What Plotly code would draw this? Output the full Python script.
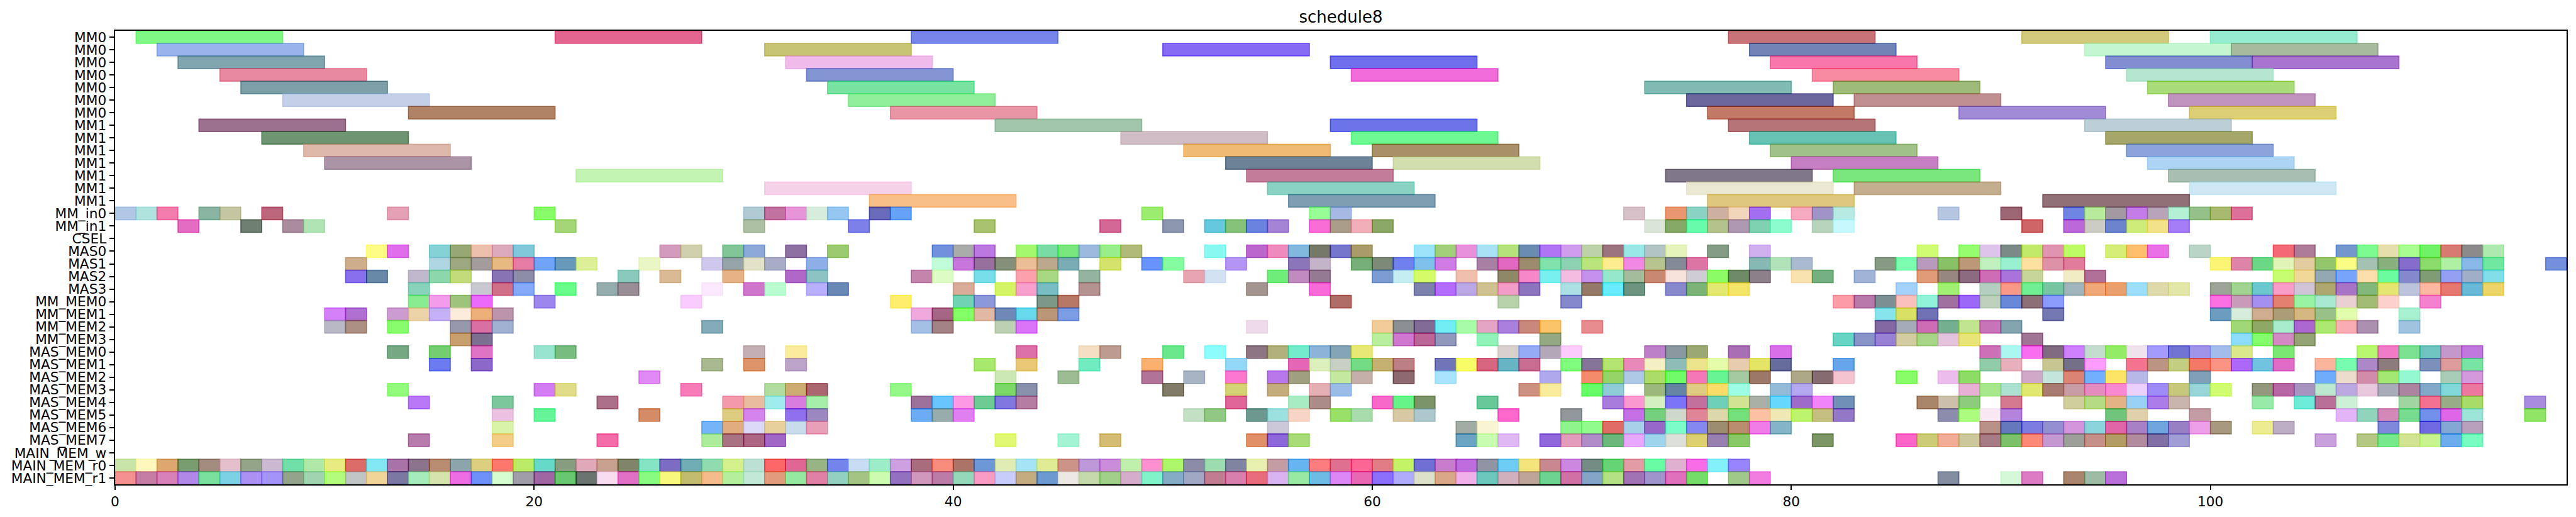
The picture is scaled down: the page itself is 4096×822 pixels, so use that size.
import plotly.graph_objects as go

TITLE = "schedule8"
ROW_LABELS = ["MM0"]*7 + ["MM1"]*7 + ["MM_in0","MM_in1","CSEL","MAS0","MAS1","MAS2","MAS3",
 "MM_MEM0","MM_MEM1","MM_MEM2","MM_MEM3","MAS_MEM0","MAS_MEM1","MAS_MEM2","MAS_MEM3","MAS_MEM4",
 "MAS_MEM5","MAS_MEM6","MAS_MEM7","MAIN_MEM_w","MAIN_MEM_r0","MAIN_MEM_r1"]
X_TICKS = [0,20,40,60,80,100]
LONG_DUR = 7
SHORT_DUR = 1

# long operations, one row each
mm0_0_s=[1,21,38,77,91,100]; mm0_0_c="80F884 E2668F 7885E8 C87378 D2CA7A 96ECD0".split()
mm0_1_s=[2,31,50,78,94,101]; mm0_1_c="98B4EA C8C476 866CF4 7085B5 C4F6D2 A6BA9E".split()
mm0_2_s=[3,32,58,79,95,102]; mm0_2_c="81A5AE F0BAEA 6F6EEC F876AA 838ED2 A974D0".split()
mm0_3_s=[5,33,59,81,96]; mm0_3_c="E8899F 8294D2 F06CD8 F88BA2 B6E6D0".split()
mm0_4_s=[6,34,73,82,97]; mm0_4_c="7C9FA8 78E2A0 80BAB2 9EBA78 A8DC78".split()
mm0_5_s=[8,35,75,83,98]; mm0_5_c="C4D0E8 90EE9A 6C689E C09090 C092BE".split()
mm0_6_s=[14,37,76,88,99]; mm0_6_c="B08266 E895A6 C27A64 A18AD6 DCCE72".split()
mm1_0_s=[4,42,58,77,94]; mm1_0_c="9B718F A2C6AC 6C74EA B47478 BCCED6".split()
mm1_1_s=[7,48,59,78,95]; mm1_1_c="6E9472 CFBCC4 6EF892 68C2B4 A4A66A".split()
mm1_2_s=[9,51,60,79,96]; mm1_2_c="DFB8AC EEBA74 A99068 A0C288 8CA4DA".split()
mm1_3_s=[10,53,61,80,97]; mm1_3_c="AA94A6 6C8296 D2DEAE C67EC2 AED4F4".split()
mm1_4_s=[22,54,74,82,98]; mm1_4_c="C4F4B4 C07E9A 807888 78E67C A8BEB0".split()
mm1_5_s=[31,55,75,83,99]; mm1_5_c="F6D2E8 8AD2C2 EAE8D2 C4AE90 CDE8F4".split()
mm1_6_s=[36,56,76,92]; mm1_6_c="F8C088 7E9FB2 DEC87E 927078".split()

# unit cells, one row each
in0_s=[0,1,2,4,5,7,13,20,30,31,32,33,34,36,37,49,57,58,72,74,75,76,77,78,80,81,82,87,90,93,94,95,96,97,98,99,100,101]
in0_c="B0C8E6 B0E2DE F47CAC 8AB4A2 C4C6A2 BC647C E4A0B4 88FC68 B0CAD4 C272A0 E696D8 D8ECDC 96C6F2 6A6ABA 66A2F6 9CEC70 96FE94 A6B8E4 D8C0C8 EA9670 8AD2C4 CEB0A2 F2D6BC A46EF0 F6AAC0 A094C6 B8EAE4 B6C6E0 9C6672 7084E4 B8EC9C A29AA0 C47CE8 B8A4B8 B4F0D4 96C08A A8BA70 DC7098".split()
in1_s=[3,6,8,9,21,30,35,41,47,50,52,53,54,55,57,58,59,60,73,74,75,76,77,78,79,81,82,91,93,94,95,96,97,98]
in1_c="E46CC2 6F7F72 AA8C9E B0E4B4 A2D676 AEC0A4 7C80E8 A8C26E D46894 8C96AE 66C8DC 86C27A 6A84DE A482D4 F86ED6 AA9E8A F0AEB8 8CA864 DAE4D8 86A968 66FCAC B4C28C AE98B2 7ED0B0 8CFCCC B8D4BC C6F8FE CE6666 BC68D8 CCCCC4 6C84CC CEEC7A F4E288 A47CF6".split()
csel_s=[]; csel_c=[]
mas0_s=[12,13,15,16,17,18,19,26,27,29,30,32,34,39,40,41,43,44,45,46,47,48,52,54,55,56,57,58,59,62,63,64,65,66,67,68,69,70,71,72,73,74,76,78,86,88,89,90,91,92,93,95,96,97,99,103,104,106,107,108,109,110,111,112,113]
mas0_c="FEFC84 E06EEC 84D2D6 98A874 EDC0AE DCAABC 80C8DA D49CBC D0D0AC 82C698 8CA8D8 8E70A2 9CCA70 7190DE A8ABA8 BA78E0 A4F86E 7ADCA4 78E67C 9CB8DC 98EE8A B2BA78 88F8F0 BA66CC EE8ABC 80B8DE 767868 7676CC A99C6A 9CE4FA A2D07A E890DA A8E2F4 B6E27C 6A8CB0 B074F4 CE9CEA BED2A8 9C7480 9AE8E6 B2C4C4 E6F4BC 849C84 D0B0EE D0FC74 94FE70 DEC4EA 7B8A86 C2EA6A E094B2 BEFC62 D4EE78 FEBE6C EA70E6 BAD4C8 F26A74 AE7C98 7498CC 7CFA8E E6DEAC A8FE8E 70F266 D67A72 8C8A8A AEEAB0".split()
mas1_s=[11,15,16,17,18,19,20,21,22,25,28,29,30,31,33,39,40,41,42,43,44,45,47,49,50,53,56,57,59,60,61,62,63,65,66,67,68,69,70,71,72,73,74,75,78,79,80,84,85,86,87,88,89,90,91,92,93,100,101,102,103,104,105,106,107,108,109,110,111,112,113,116]
mas1_c="CEAE8A B0D6E2 9EA880 A29C9C E6BA80 E67CA4 70A4F8 6898BA DCF098 EAF6C4 D0C8EC 94A4A8 E2E2C8 A8ACC6 8EAEE8 C0FCD8 C876DC 98709E 84907A ECBE98 BCA88C 7AACB4 D4E46A 6892FC 86FCA0 B494F4 8A76B8 C4B4C8 76B078 7E8A78 7080EC 80C0EC D07CE6 A880A4 E068C0 9C8A6C 82E2AC 8CD2B2 B8E67C FCEC8E F088E4 B8C490 848A96 DC74A4 86B8B4 B2E2B8 AABAD0 869A84 7CFEB0 B89ABC 88C064 BC9878 C0F0BE 98F0D0 FEE0A0 DE92A8 E07C9C FCF474 DE84A8 6AD884 E0F4B8 E2CCA0 94C66C FAFC84 A4C2B4 88B07C 866CCC 8CDC6C B0F0A2 88B8E8 70E8A0 7490DC".split()
mas2_s=[11,12,14,15,16,18,19,24,26,29,32,33,38,39,41,43,44,46,51,52,55,56,57,60,61,62,64,66,67,68,69,70,71,72,73,74,75,76,77,78,80,81,83,86,87,88,89,90,91,93,94,103,104,105,106,107,108,109,110,111,112,113]
mas2_c="8870EC 6888A8 C0B8CC 8CD8AC C2DC7C 8874B4 8C8EA8 8ACABC DABA94 E6B286 B068C8 8CC4C4 C484AC DCFCC4 78DEE8 FCA0AE A8D884 94B4A0 E4A4B0 D2E2F2 70EC78 C08CC0 957A94 7C9CD2 C4EEF2 D4FC66 F0C0AC 8E8860 F488C8 78F0F0 F4BCE0 C490EC 96E8CC A4BC9C C88872 F8E2DC D0CCD4 8CFC64 6E8A64 8C808A FAE2B0 74B080 A0B4D8 E09C78 968880 8C6A80 CC6CB4 A874DC C6D698 F2ECC4 B07098 C6FC70 F2D898 94A8B4 78A4FC FCDEAC 6CFCA0 8488CC 809C74 94A0F4 A0AEC8 80DEE8".split()
mas3_s=[14,17,18,19,21,23,24,28,30,31,33,34,40,42,43,44,46,54,57,62,63,64,65,66,67,69,70,71,72,74,75,76,77,85,87,89,90,91,92,93,94,95,96,97,98,100,101,102,103,104,105,106,107,108,109,110,111,112,113]
mas3_c="88D2BC C8C8D0 D07088 84AAF8 68FC88 94ACAC 9A8E96 FCE8FC CE76CC B8FCD0 B8B0FC 6A88B6 D8AC98 D4F45C F8A0CC 78BCC4 B49290 A49490 F86AD8 7C82AC B46CFC BAA8E4 D0C290 F49CC8 8C74BE ACE0E4 947A62 58ECFC 6C9480 8888CC 7CB478 E2E870 F4E468 A4D0FC A0F074 B4CEC0 F89888 70EE94 76C4A0 A0B4BC F0A878 EAA06C 9CDEFC DEDAAC E2E6A8 9CA498 A0D490 6CC8CC F89CC8 D0C4D8 AEA870 A874C8 82B87C E4E670 BCC4DC FCB8A0 E67870 68B8D8 ECD464".split()
mem0_s=[14,15,16,17,20,27,37,40,41,44,45,58,66,69,82,83,84,85,86,87,88,89,90,91,92,100,101,102,103,104,105,106,107,108,110]
mem0_c="88EC90 F49CEC 9CC47C EA68FA 9C88EC F8CCFC FEEE6C 70D4B4 8C98DC 7E9888 B87868 B06C64 B8D2AC 8488CC FC9CA8 B878A8 7C9094 FCC0BC 90F4D8 A070A0 9C68F8 BCD0BC 6888D8 8C7078 8C9CFC FC70E4 C89CB8 A490F0 E48070 98F4A4 A8E8D0 E8D0D0 A2BC74 FCD0CC F480D0".split()
mem1_s=[10,11,13,14,15,16,17,18,38,39,40,41,42,43,44,45,84,85,86,92,100,101,102,103,104,105,106,109]
mem1_c="D480F8 B070D0 CC9CD0 ECD4A8 C4B0F4 FCECDC ECB078 BC94AC EEA8DC A46484 84FE54 E0B8A4 7088B8 68D8EC BC9678 7C9CE4 88E4EC D8E064 7070B4 7478B0 6C9CC0 D8ECDC D0AC90 AC9C78 D4B680 98C088 E0FCAC A8F0D0".split()
mem2_s=[10,11,13,16,17,18,28,38,39,42,43,54,60,61,62,63,64,65,66,67,68,70,84,85,86,87,88,89,90,101,102,103,104,105,106,107,109]
mem2_c="B8B8C4 AC9084 88FC6C 9898AC D870A4 A0B0D0 84ACB8 A4C0E4 A28284 BCD0B4 DC74F8 EEDAE8 F0CC98 8C9094 806C94 70ECF4 A8FCA8 E4A4C4 A880DC C8887C FCC468 E88C90 8468A4 A4ACB8 CC6CB4 74B090 C0E490 C874B8 84A4B0 A0D878 90A864 A8ECCC AC68D0 ACE870 F8ACB4 AC90B0 A0C4E0".split()
mem3_s=[16,17,60,61,62,63,65,68,82,83,84,85,86,87,88,91,101,102,103,104]
mem3_c="C8A070 7C7090 B8EE9C D078D0 BC6498 9098BC 90F4B8 94A884 68D4C4 8894C8 9880D4 D2CCA0 A8D488 E4C4DC E8E478 A07494 8CDCFC 84FC6C D488C4 94A474".split()
mas_mem0_s=[13,15,17,20,21,30,32,43,46,47,50,52,54,55,56,57,58,59,66,67,68,69,73,74,75,77,79,89,90,91,92,93,94,95,96,97,98,99,100,101,103,107,108,109,110,111,112]
mas_mem0_c="76A884 74CE70 E074C4 98E4D0 78BC80 C4B0B4 FAEA9C DC70A8 F4DEC4 BC9C90 6CE88C 8CFCFC 8C7480 B0B07C 74ECCC 8CB4D8 84A4B8 E8E874 D8D0CC 94ACF4 B4A8B8 FCCCFC BC80C8 8C98A0 9CA874 A870B4 D870E8 CC70B8 ACF8F0 F86CF0 806C80 CC80FC C4DCD0 94EC60 F0E4EC A49CFC 7074D0 A094E8 A4BCEC DCE88C 7CE874 B8F870 F07CC8 7CE090 70C4C0 C498C8 C078DC".split()
mas_mem1_s=[15,17,28,30,32,41,43,46,49,53,56,57,58,59,60,61,63,64,65,66,67,69,70,71,72,73,74,75,76,77,78,79,82,89,90,92,93,94,96,97,98,99,100,101,102,103,105,106,107,108,110,111,112]
mas_mem1_c="6C7CF0 8C68C8 A8B890 DC9468 BCA4C8 A8E86C E8C874 70ECC0 FCB070 94D8F8 E460B4 DCF0BC C8D0C4 74DC84 C4B070 BC8084 7074B8 F8FC64 D86480 64B4C4 C86C90 80FC7C 847498 B4E470 E888B8 F4F0C4 90BCB8 ECE48C E4FCA8 E8CCB0 E4E464 646C9C 64A4EC 90CCA8 E8B0BC C8C690 747088 FC9CFC F47490 BC9484 C4CE80 F47864 FC9484 AC68F8 70C4E0 E06CC8 FCB49C 78FCB0 AC88C8 8C7C7C 7C90BC DC9C9C 78E4A4".split()
mas_mem2_s=[25,42,45,49,51,53,55,56,58,59,61,63,68,70,71,72,73,74,75,76,77,78,80,81,82,85,87,88,91,92,93,94,95,96,99,105,106,107,108,109,111,112]
mas_mem2_c="E088F4 CCE8B4 9CBC94 B07498 A8B4C4 FC78D0 B878EC A0A080 C4E8A0 C4B0A8 8C6A70 A8E4FC B0A8EC F48C6C 94D464 ACC8E4 ACDC68 70FC68 F478B8 64F494 A4C8A0 9C7868 ACA888 846C70 F4C4D0 88FC64 ECBCEC 8CDC60 D0A8C8 C4E4DC DC8474 70B0FC FCE464 B8B8E8 80A0B8 70ACFC ECDCCC D08CA8 A4E874 94F8D0 A8CCB8 D498DC".split()
mas_mem3_s=[13,20,21,27,31,32,33,37,42,43,50,53,55,57,58,67,68,70,71,73,74,75,76,77,79,80,88,89,90,91,92,93,94,95,96,97,98,99,100,102,103,104,105,106,107,108,109,110,111,112]
mas_mem3_c="94FC7C D47CF4 E0DC88 F87CB8 B0DCA0 CCAC70 AC6470 94F888 7CD864 8890AC 807C68 D4D474 C4AC7C E4B0B4 9CBCE8 CC9080 F8EC9C 64FC64 90CCD8 9CB87C 6684A4 E0CC80 FCDC68 9CFCE4 94BCD8 B4A8F0 E8B0D4 A8E88C ACE0D0 E0E870 A87C70 C89CA4 E48CC0 F888D0 ECD0FC A08CF8 C8C87C 98D4D8 D0FC70 94987C B864A4 A894C0 BCE8D0 BCA8E0 E8C8DC A8ACB8 AC84A0 84A8C8 80D8D8 EC78A0".split()
mas_mem4_s=[14,18,23,29,30,31,32,33,38,39,40,41,42,43,53,56,57,60,61,62,65,71,72,73,74,75,76,77,78,79,80,81,82,86,87,88,90,93,94,95,96,97,98,102,104,105,106,109,110,111,112,115]
mas_mem4_c="B878F8 7CC89C AC7088 F498AC E8BC9C A0ECEC D87CE0 A4F0A8 9C7098 68C4FC FC98E4 6CCC94 8078E0 B47CA0 E06098 A8ECC4 AC8C88 F868C8 64F488 7C9468 68C898 A87CDC FC98D0 D4F0C0 7C74F8 C4709C 6CD0B8 D0E494 A8B0A8 64D8FC 9C6CC8 F084F8 7090B8 A88468 CCC0A8 8CCC7C D47890 D0CE9C B4DC84 E2B484 98D0F4 AC7CE8 C8B4AC 98EAA8 6CECD8 B87098 CCF0D4 A0D4A0 F47090 98AC88 A8DC68 A88CE0".split()
mas_mem5_s=[18,20,25,29,30,32,33,38,39,40,51,52,54,55,56,58,59,61,62,66,69,72,73,74,75,76,77,78,79,80,81,82,87,88,89,90,95,96,99,106,107,108,109,110,111,112,115]
mas_mem5_c="ECC0E0 58F498 D48C68 DCCC80 D484EC 9070EC 9C88C0 6CACF4 98ACAC E080F0 C4E0C4 90C884 6C9890 9CE0E0 F8D4C4 98E068 A8DCAC D8C8A4 ACC8CC FC68CC 90989C C470E4 74D07C D0D8CC E08498 DCD8AC 74E07C FCC0A4 F0E8B4 BCF46C C4BE80 9478C8 8C8CAC ACFC80 F8E8F4 B484DC 70C47C E0D0AC C49CA4 E4B4F8 90D4BC D488B8 78DC90 7090EC E060E8 9CE4D8 90E460".split()
mas_mem6_s=[18,28,29,30,31,32,33,55,64,65,69,70,71,72,73,74,75,76,77,78,79,89,90,91,92,93,94,95,96,97,98,99,100,102,103,108,110,111,112]
mas_mem6_c="D8F4A8 74B4F8 E0AC80 DCD8F8 E8D09C C8DCEC E8A0B8 CCC8D8 A0ACA4 F8F4D4 90F48C 90FC8C E06C64 A8D0E8 9868C8 7CFCC8 8488F0 9C8C70 B88C6C F07CE8 84B4C8 B89088 6478BC 7C7CE0 9490D0 D494DC 8CD4DC E064A8 A880C4 70A4DC 9880C4 ECA0E8 A89880 ECEC90 BCACC4 8088DC 7068E0 84A8D4 B8A0BC".split()
mas_mem7_s=[14,18,23,28,29,30,31,42,45,47,54,55,56,64,65,66,68,69,70,71,72,73,74,75,76,77,81,85,86,87,88,89,90,91,92,93,94,95,96,97,98,105,107,108,109,110,111,112]
mas_mem7_c="B87CAC F4CE88 F46CA8 ACEC9C A87484 AC6084 A068C4 E0F874 A4F4D4 D4BC74 E09068 8C68D8 A8DC78 6CA4C4 C8FCB0 E0B8F4 9068DC E09CB8 B08CC8 6CB87C E8A8FC A0D4EC DCE0D8 DCD070 9880B0 88C864 7C9660 FC64C8 CCCC78 F0AC94 CCC89C A87C84 7CC06C FC8878 C498D0 9CA098 C49088 B49C64 B08C9C 8070A4 A09CD4 C8A0DC B4C884 78E88C D0E494 C8F490 6CACEC 78FCC0".split()
main_w_s=[]; main_w_c=[]
main_r0_s=[0,1,2,3,4,5,6,7,8,9,10,11,12,13,14,15,16,17,18,19,20,21,22,23,24,25,26,27,28,29,30,31,32,33,34,35,36,37,38,39,40,41,42,43,44,45,46,47,48,49,50,51,52,53,54,55,56,57,58,59,60,61,62,63,64,65,66,67,68,69,70,71,72,73,74,75,76,77]
main_r0_c="C8E4A8 FEF8BC DCA870 789C70 A28C80 E4C0CC 94A488 CCB8D0 70E0A8 B0E8A8 E8EC80 DC6C68 84E8F4 A874A8 8C748C B88C70 8CA4AC DCD080 FC786C BCEC64 60D8C8 889C80 E0A8B8 C8A090 808468 84E4C4 7C6CC4 70ACB4 90DCB0 D4F08C BCE0D4 FC6868 E06494 98B484 7484EC C8DCF4 9CECC8 CCA0E0 A86C7C F88C7C AC7468 6C98D8 E0ECB4 A4E4F4 E0EC94 CC9488 BC98D8 CC8CDC C0F0AC FC90D0 ACF868 8C8CA8 9CDCB0 8084A0 E8F0B0 C49CA4 64B4F0 FC7C80 E07090 FC6494 E07C84 C4F460 7070D4 C87CCC BC6CDC 9094A4 6CCCF4 F4E47C C88890 CC88E0 748C84 64D474 E49CA4 68FCA4 E0B0D0 F86CE8 84F0FC 9884FC".split()
main_r1_s=[0,1,2,3,4,5,6,7,8,9,10,11,12,13,14,15,16,17,18,19,20,21,22,23,24,25,26,27,28,29,30,31,32,33,34,35,36,37,38,39,40,41,42,43,44,45,46,47,48,49,50,51,52,53,54,55,56,57,58,59,60,61,62,63,64,65,66,67,68,69,70,71,72,73,74,75,77,78,87,90,91,93,94,95]
main_r1_c="F49090 C47CA4 D880B8 B088E8 78E09C 7CD0E4 AC90F4 A494F8 94A48C A0D4B0 B4FC7C C0C4C4 F0D498 7C78A4 A4ECB8 D4E4AC EC6CE4 6C90F8 D4FCCC A09CA8 A064A4 68C870 6C7470 F8DCF0 E070C4 88FC80 F8F87C C0BC6C F4BC8C B4F09C C4E8D8 E09C7C 94E8A0 E080A4 94D0C0 A4C484 CCFCB0 9470C0 D098BC BC7CA8 94D8BC F89CC4 C8CCF8 C4AC80 6C98D0 ECE8E4 C4D8AC A0D088 D4ACCC 80F4C8 84ACC4 A0A8C4 C07C90 D880AC E86C7C D8B4F0 98E8A4 6CBCE4 DC88F4 E868B4 8C70FC B0ACFC DCE0C8 D8A888 F0B0E8 6CC8BC D0B0BC BCA498 6CD490 D070A4 84A4C8 B4E084 A074B4 A094CC E070BC 74DC68 A0C888 F07CE0 848CA0 D4F8D8 DC7CC4 A8846C 9CBCA4 B870D8".split()

ROW_STARTS = [mm0_0_s,mm0_1_s,mm0_2_s,mm0_3_s,mm0_4_s,mm0_5_s,mm0_6_s,mm1_0_s,mm1_1_s,mm1_2_s,mm1_3_s,mm1_4_s,mm1_5_s,mm1_6_s,
 in0_s,in1_s,csel_s,mas0_s,mas1_s,mas2_s,mas3_s,mem0_s,mem1_s,mem2_s,mem3_s,mas_mem0_s,mas_mem1_s,mas_mem2_s,mas_mem3_s,mas_mem4_s,mas_mem5_s,mas_mem6_s,mas_mem7_s,main_w_s,main_r0_s,main_r1_s]
ROW_COLORS = [mm0_0_c,mm0_1_c,mm0_2_c,mm0_3_c,mm0_4_c,mm0_5_c,mm0_6_c,mm1_0_c,mm1_1_c,mm1_2_c,mm1_3_c,mm1_4_c,mm1_5_c,mm1_6_c,
 in0_c,in1_c,csel_c,mas0_c,mas1_c,mas2_c,mas3_c,mem0_c,mem1_c,mem2_c,mem3_c,mas_mem0_c,mas_mem1_c,mas_mem2_c,mas_mem3_c,mas_mem4_c,mas_mem5_c,mas_mem6_c,mas_mem7_c,main_w_c,main_r0_c,main_r1_c]

ALPHA = 0.6
def rgba(hexstr):
    # colours above were read as they look over white; recover the translucent ink
    out = []
    for i in (0, 2, 4):
        v = int(hexstr[i:i+2], 16)
        out.append(max(0, min(255, round((v - 255*(1-ALPHA)) / ALPHA))))
    return "rgba(%d,%d,%d,%s)" % (out[0], out[1], out[2], ALPHA)

ys, bases, widths, cols = [], [], [], []
for r, (starts, colors) in enumerate(zip(ROW_STARTS, ROW_COLORS)):
    assert len(starts) == len(colors), (r, len(starts), len(colors))
    for s, c in zip(starts, colors):
        ys.append(r); bases.append(s)
        widths.append(LONG_DUR if r < 14 else SHORT_DUR)
        cols.append(rgba(c))

fig = go.Figure(go.Bar(orientation="h", y=ys, x=widths, base=bases, width=1,
                       marker=dict(color=cols, line=dict(color=cols, width=1.6)),
                       hoverinfo="skip"))
FONT = "DejaVu Sans"
axis = dict(showline=True, linecolor="black", linewidth=1.7, mirror=True, ticks="outside",
            ticklen=7.6, tickwidth=1.7, tickcolor="black", showgrid=False, zeroline=False,
            tickfont=dict(family=FONT, size=21.67, color="black"))
fig.update_layout(
    width=4096, height=822, margin=dict(l=183, r=15, t=49, b=52), autosize=False,
    paper_bgcolor="white", plot_bgcolor="white", barmode="overlay", showlegend=False,
    title=dict(text=TITLE, x=0.5205, xanchor="center", y=1-27/822, yanchor="middle",
               font=dict(family=FONT, size=26, color="black")),
    xaxis=dict(range=[0, 117], tickmode="array", tickvals=X_TICKS, ticktext=[str(t) for t in X_TICKS], **axis),
    yaxis=dict(range=[35.5, -0.5], tickmode="array", tickvals=list(range(len(ROW_LABELS))), ticktext=ROW_LABELS, **axis),
)
fig.write_html("out.html", config={"displayModeBar": False},
               post_script="document.body.style.margin='0';document.documentElement.style.overflow='hidden';")
